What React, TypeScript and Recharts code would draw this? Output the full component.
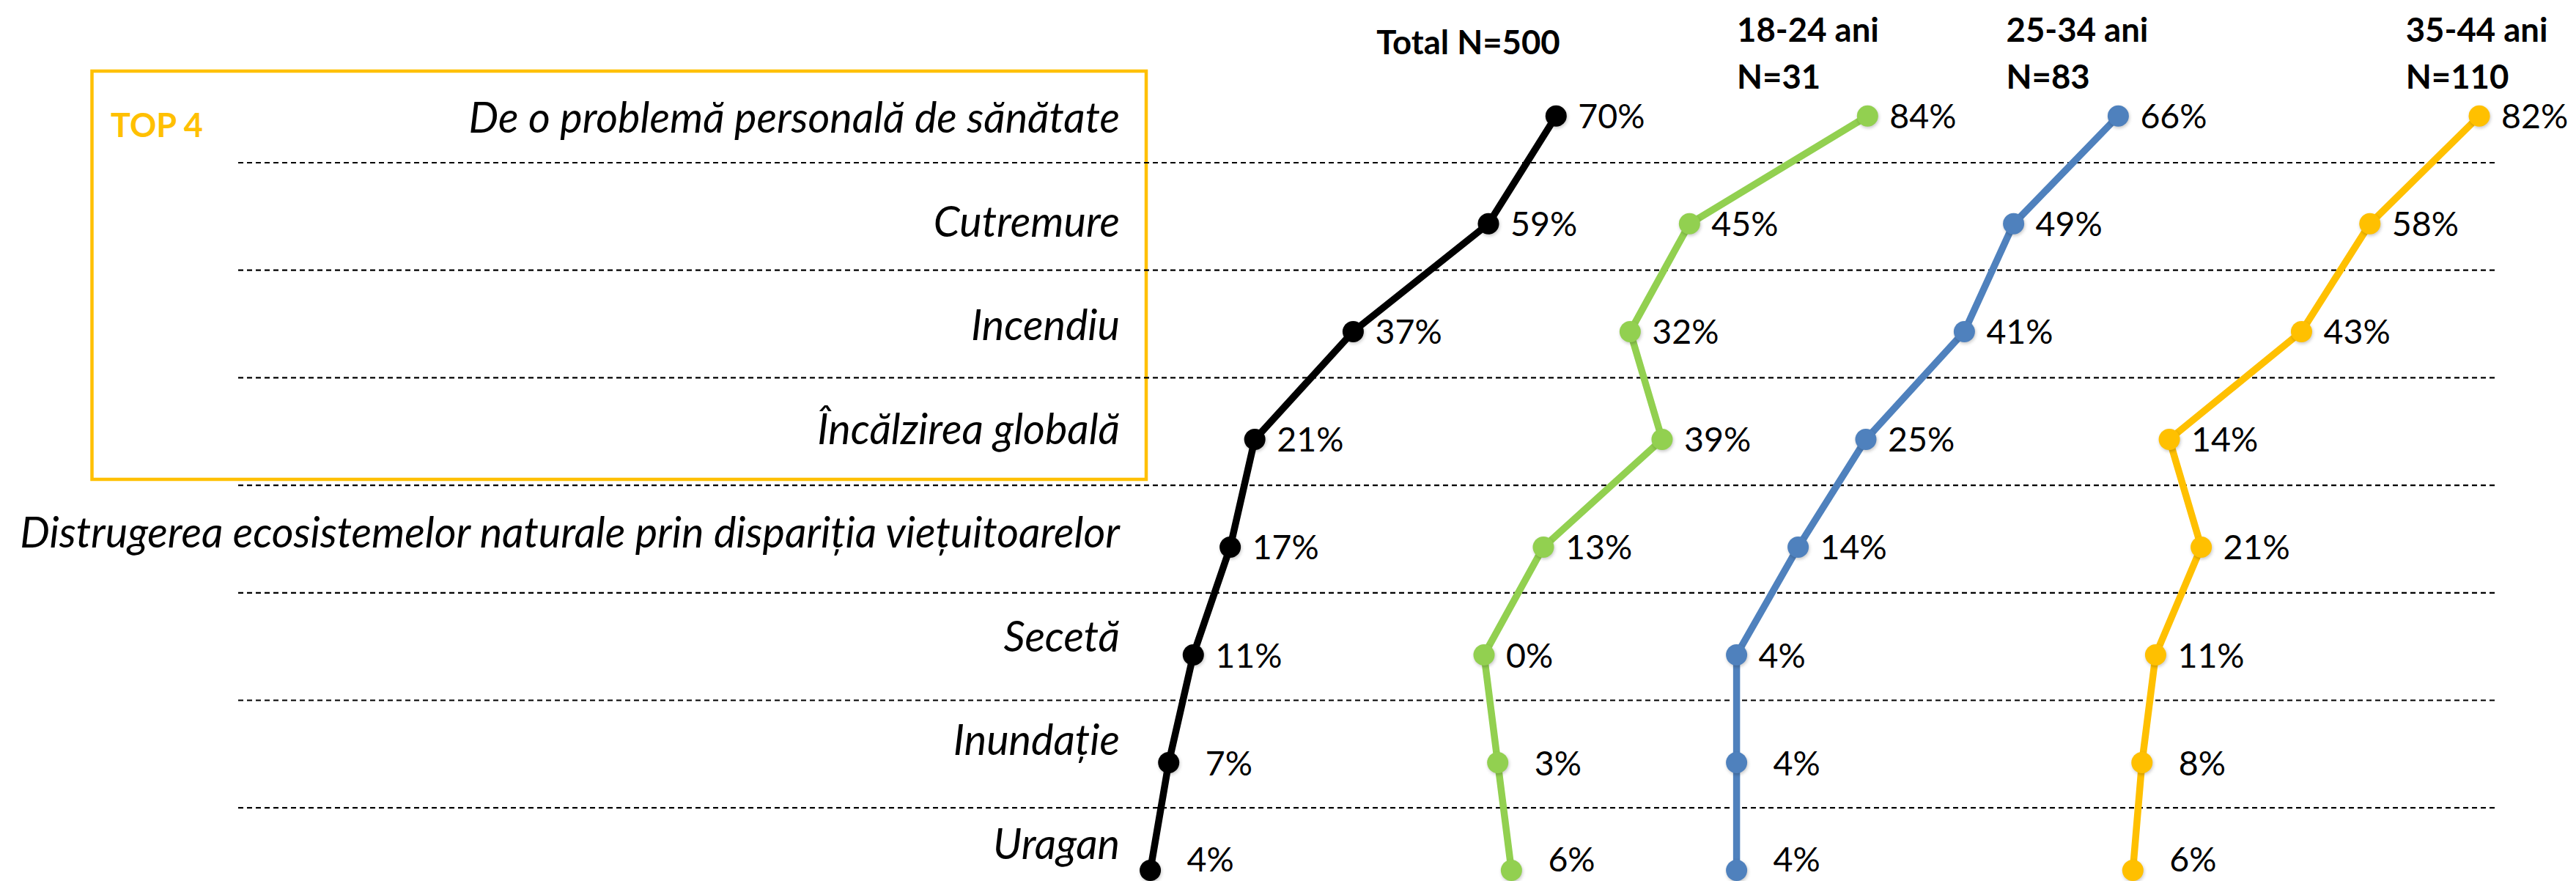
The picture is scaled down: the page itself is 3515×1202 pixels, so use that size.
import React from "react";
import { LineChart, Line, XAxis, YAxis, ReferenceLine, LabelList } from "recharts";

// categories (rows), top to bottom
const categories = [
  "De o problemă personală de sănătate",
  "Cutremure",
  "Incendiu",
  "Încălzirea globală",
  "Distrugerea ecosistemelor naturale prin dispariția viețuitoarelor",
  "Secetă",
  "Inundație",
  "Uragan",
];

// % per group
const totalValues = [70, 59, 37, 21, 17, 11, 7, 4];
const age1824Values = [84, 45, 32, 39, 13, 0, 3, 6];
const age2534Values = [66, 49, 41, 25, 14, 4, 4, 4];
const age3544Values = [82, 58, 43, 14, 21, 11, 8, 6];

const groupTitles = [
  ["Total N=500"],
  ["18-24 ani", "N=31"],
  ["25-34 ani", "N=83"],
  ["35-44 ani", "N=110"],
];

const rows = categories.map((category, i) => ({
  category,
  total: totalValues[i],
  a1824: age1824Values[i],
  a2534: age2534Values[i],
  a3544: age3544Values[i],
}));

// row boundaries (between consecutive categories)
const separators = categories.slice(1).map((_, i) => i + 1);

// layout
const W = 3515;
const H = 1202;
const FONT = "Lato, 'Noto Sans', sans-serif";
const POINT_TOP = 158.3;
const POINT_BOTTOM = 1187.6;
const LABEL_MAX_BASELINE = 1189;

const panels = [
  { key: "total", color: "#000000", zero: 1535.5, pxPerPct: 8.39 },
  { key: "a1824", color: "#92D050", zero: 2024.5, pxPerPct: 6.23 },
  { key: "a2534", color: "#4F81BD", zero: 2336, pxPerPct: 8.4 },
  { key: "a3544", color: "#FFC000", zero: 2873, pxPerPct: 6.22 },
];

const renderValueLabel = (props: any) => {
  const x = props.x ?? props.viewBox?.x;
  const y = props.y ?? props.viewBox?.y;
  const gap = props.index >= 6 ? 50 : 30;
  return (
    <text
      x={x + gap}
      y={Math.min(y + 17, LABEL_MAX_BASELINE)}
      fill="#000"
      fontSize={46.5}
      fontFamily={FONT}
    >
      {props.value}%
    </text>
  );
};

function SeriesPanel({ dataKey, color, zero, pxPerPct }: any) {
  const ml = 30;
  const mr = 170;
  const plotW = pxPerPct * 100;
  return (
    <div style={{ position: "absolute", left: zero - ml, top: 0 }}>
      <LineChart
        layout="vertical"
        width={ml + plotW + mr}
        height={H}
        data={rows}
        margin={{ top: POINT_TOP, bottom: H - POINT_BOTTOM, left: ml, right: mr }}
      >
        <XAxis type="number" domain={[0, 100]} hide />
        <YAxis type="category" dataKey="category" scale="point" hide />
        <Line
          dataKey={dataKey}
          stroke={color}
          strokeWidth={9.5}
          strokeLinejoin="round"
          dot={{
            r: 14.5,
            fill: color,
            stroke: color,
            strokeWidth: 0,
            style: { filter: "drop-shadow(1.5px 2.5px 2px rgba(0,0,0,0.22))" },
          }}
          activeDot={false}
          isAnimationActive={false}
        >
          <LabelList dataKey={dataKey} content={renderValueLabel} />
        </Line>
      </LineChart>
    </div>
  );
}

const CategoryTick = (props: any) => (
  <text
    x={props.x}
    y={props.y}
    textAnchor="end"
    fill="#000"
    fontSize={57.5}
    fontStyle="italic"
    fontFamily={FONT}
  >
    {props.payload.value}
  </text>
);

export default function App() {
  const labelRight = 1528;
  const sepTop = 75.3;
  const sepStep = 146.7;
  const sepH = 1260;

  return (
    <div
      style={{
        position: "absolute",
        left: 0,
        top: 0,
        width: W,
        height: H,
        overflow: "hidden",
        background: "#fff",
        fontFamily: FONT,
      }}
    >
      {/* TOP 4 box */}
      <svg width={W} height={H} style={{ position: "absolute", left: 0, top: 0 }}>
        <rect x={125.5} y={97} width={1438.5} height={557} fill="none" stroke="#FFC000" strokeWidth={4.5} />
        <text x={151} y={186.6} fill="#FFC000" fontSize={45} fontWeight={700} fontFamily={FONT}>
          TOP 4
        </text>
      </svg>

      {/* row separators */}
      <div style={{ position: "absolute", left: 0, top: 0 }}>
        <LineChart
          width={W}
          height={sepH}
          data={rows}
          margin={{ top: sepTop, bottom: sepH - sepTop - sepStep * categories.length, left: 325, right: W - 3405 }}
        >
          <XAxis dataKey="category" hide />
          <YAxis type="number" domain={[0, categories.length]} allowDataOverflow reversed hide />
          {separators.map((s) => (
            <ReferenceLine
              key={s}
              y={s}
              ifOverflow="visible"
              stroke="#000"
              strokeWidth={2.2}
              strokeDasharray="7 5"
            />
          ))}
        </LineChart>
      </div>

      {/* category labels */}
      <div style={{ position: "absolute", left: 0, top: 0 }}>
        <LineChart
          layout="vertical"
          width={labelRight + 10}
          height={H}
          data={rows}
          margin={{ top: 181, bottom: H - 1172, left: 0, right: 10 }}
        >
          <XAxis type="number" domain={[0, 1]} hide />
          <YAxis
            type="category"
            dataKey="category"
            scale="point"
            width={labelRight}
            axisLine={false}
            tickLine={false}
            tickSize={0}
            tickMargin={0}
            interval={0}
            tick={<CategoryTick />}
          />
        </LineChart>
      </div>

      {panels.map((p) => (
        <SeriesPanel key={p.key} dataKey={p.key} color={p.color} zero={p.zero} pxPerPct={p.pxPerPct} />
      ))}

      {/* group headers */}
      <svg width={W} height={H} style={{ position: "absolute", left: 0, top: 0, pointerEvents: "none" }}>
        <text x={2003.5} y={74} textAnchor="middle" fontSize={45.5} fontWeight={700} fontFamily={FONT}>
          {groupTitles[0][0]}
        </text>
        {[2370, 2737.5, 3282.7].map((x, i) => (
          <text key={x} x={x} fontSize={45.5} fontWeight={700} fontFamily={FONT}>
            <tspan x={x} y={57}>{groupTitles[i + 1][0]}</tspan>
            <tspan x={x} y={121}>{groupTitles[i + 1][1]}</tspan>
          </text>
        ))}
      </svg>
    </div>
  );
}
